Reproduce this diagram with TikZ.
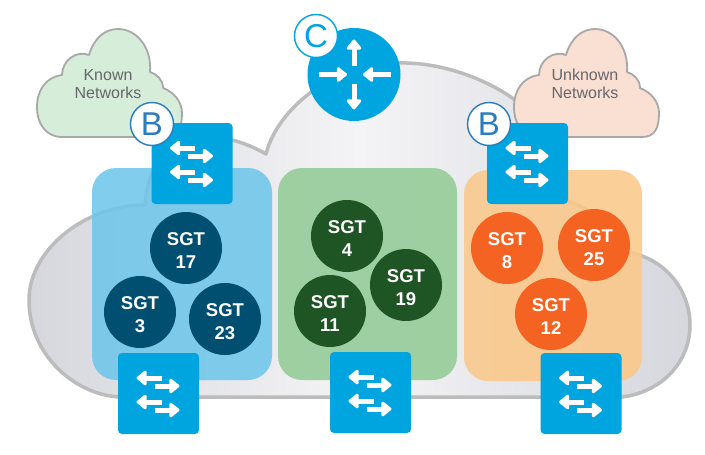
\documentclass[tikz,border=0pt]{standalone}
\usepackage{fontspec}
\setmainfont{Liberation Sans}
\usetikzlibrary{arrows.meta}
\definecolor{netblue}{HTML}{00A5E0}
\definecolor{cloudline}{HTML}{BCBCBC}
\definecolor{smallline}{HTML}{A8A8A8}
\definecolor{blueteam}{HTML}{004F70}
\definecolor{greenteam}{HTML}{1F5424}
\definecolor{orangeteam}{HTML}{F46321}
\definecolor{labelgray}{HTML}{67676B}
\definecolor{bluepanel}{HTML}{6FC6EA}
\definecolor{greenpanel}{HTML}{93CB97}
\definecolor{orangepanel}{HTML}{FBC88A}
\definecolor{cloudmid}{HTML}{F4F4F6}
\definecolor{cloudedge}{HTML}{D6D7DD}
\definecolor{knowncloud}{HTML}{D5EDD9}
\definecolor{unknowncloud}{HTML}{FADFD3}
\definecolor{bbadge}{HTML}{2A7CBC}
\tikzset{
  x=1pt,y=-1pt,
  bigcloud/.style={draw=cloudline,line width=3.5pt,line join=round,left color=cloudedge,right color=cloudedge,middle color=cloudmid},
  smallcloud/.style={draw=smallline,line width=1.8pt,line join=round},
  panel/.style={rounded corners=24pt,opacity=.88},
  teamtext/.style={text=white,font=\fontsize{18.5}{23}\selectfont\bfseries,align=center},
  switchbox/.style={fill=netblue,rounded corners=4pt,minimum width=81pt,minimum height=81pt,inner sep=0pt},
  whitearrow/.style={draw=white,line width=5pt,-{Triangle[length=11pt,width=17pt,round]}},
  cloudtext/.style={text=labelgray,font=\fontsize{16}{18}\selectfont,align=center},
  badge/.style={circle,fill=white,draw=#1,text=#1,line width=1.4pt,minimum size=43pt,inner sep=0pt,font=\fontsize{33}{33}\selectfont}
}
\newcommand{\cloudpath}{
  (62,137) .. controls (46,137) and (37,124) .. (37,107)
  .. controls (37,90) and (46,77) .. (62,75)
  .. controls (62,60) and (77,50) .. (89,55)
  .. controls (94,38) and (105,29) .. (118,29)
  .. controls (137,29) and (152,48) .. (150,72)
  .. controls (157,74) and (163,80) .. (163,88)
  .. controls (174,92) and (182,102) .. (182,113)
  .. controls (182,128) and (178,137) .. (165,137) -- cycle}
\newcommand{\switchicon}[3]{%
  \node[switchbox] (#1) at (#2,#3) {};
  \draw[whitearrow] (#1.center) ++(3,-15.5) -- ++(-25,0);
  \draw[whitearrow] (#1.center) ++(-4,-7.5) -- ++(25,0);
  \draw[whitearrow] (#1.center) ++(3,8.5) -- ++(-25,0);
  \draw[whitearrow] (#1.center) ++(-4,16.5) -- ++(25,0);
}
\newcommand{\teamdot}[5]{%
  \node[circle,minimum size=72pt,inner sep=0pt,fill=#2] (#1) at (#3,#4) {};
  \node[teamtext] (#1t) at ([yshift=-2.5pt]#1.center) {SGT\\#5};
}
\begin{document}
\begin{tikzpicture}
\useasboundingbox (0,0) rectangle (705,455);
% main cloud
\path[bigcloud] (120,397) -- (622,397)
  .. controls (662,392) and (690,362) .. (690,325)
  .. controls (690,290) and (665,258) .. (627,252)
  .. controls (615,228) and (590,205) .. (556,198)
  .. controls (555,150) and (530,115) .. (515,100)
  .. controls (485,78) and (440,62) .. (399,63)
  .. controls (360,60) and (330,72) .. (310,93)
  .. controls (290,108) and (272,130) .. (266,154)
  .. controls (250,145) and (240,142) .. (225,138)
  .. controls (195,130) and (150,140) .. (145,205)
  .. controls (85,205) and (29,250) .. (29,300)
  .. controls (29,355) and (75,395) .. (120,397) -- cycle;
% panels
\fill[panel,fill=bluepanel] (92,168) rectangle (272,380);
\fill[panel,fill=greenpanel] (278,168) rectangle (457,380);
\fill[panel,fill=orangepanel] (464,170) rectangle (642,381);
% outer clouds
\path[smallcloud,fill=knowncloud] \cloudpath;
\begin{scope}[xshift=477pt]
\path[smallcloud,fill=unknowncloud] \cloudpath;
\end{scope}
\node[cloudtext] (known) at (108,84) {Known\\Networks};
\node[cloudtext] (unknown) at (585,84) {Unknown\\Networks};
% router
\node[circle,fill=netblue,minimum size=93pt,inner sep=0pt] (router) at (354,74.5) {};
\draw[whitearrow] (router.center) ++(-35,0) -- ++(28,0);
\draw[whitearrow] (router.center) ++(37,0) -- ++(-28,0);
\draw[whitearrow] (router.center) ++(0,-9) -- ++(0,-26);
\draw[whitearrow] (router.center) ++(0,9) -- ++(0,26);
% switches
\switchicon{swa}{192}{163.5}
\switchicon{swb}{527.5}{163.5}
\switchicon{swc}{158.5}{393.5}
\switchicon{swd}{370.5}{392.5}
\switchicon{swe}{581}{393.5}
% groups
\teamdot{s17}{blueteam}{186}{248}{17}
\teamdot{s3}{blueteam}{140}{312}{3}
\teamdot{s23}{blueteam}{225}{319}{23}
\teamdot{s4}{greenteam}{347}{236}{4}
\teamdot{s19}{greenteam}{406}{285}{19}
\teamdot{s11}{greenteam}{330}{311}{11}
\teamdot{s8}{orangeteam}{507}{248}{8}
\teamdot{s25}{orangeteam}{594}{245}{25}
\teamdot{s12}{orangeteam}{551}{314}{12}
% badges
\node[badge=bbadge] (bl) at (152,124) {B};
\node[badge=bbadge] (br) at (489,124) {B};
\node[badge=netblue] (cb) at (316,36) {C};
\end{tikzpicture}
\end{document}
